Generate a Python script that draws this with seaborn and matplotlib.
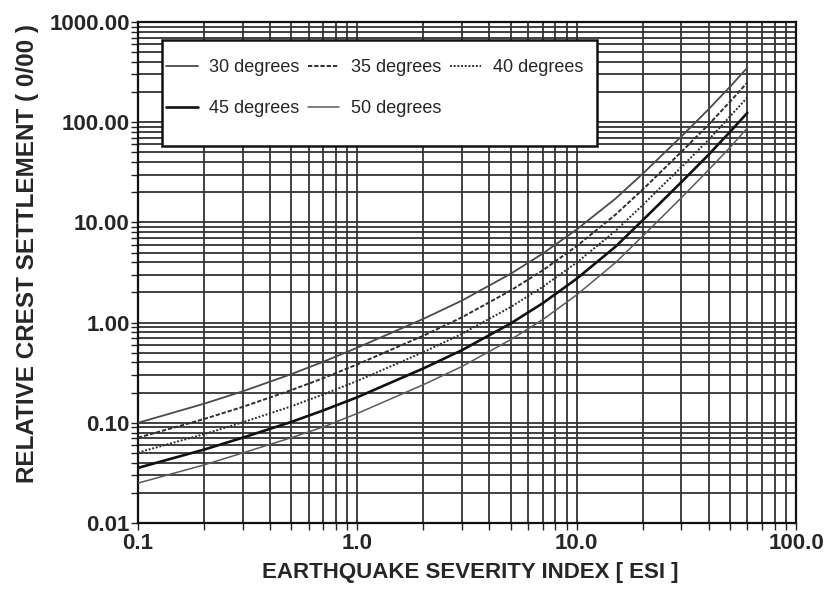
import matplotlib
matplotlib.use("Agg")
import matplotlib.pyplot as plt
import matplotlib.ticker as mticker
from matplotlib.patches import Rectangle
import numpy as np
import pandas as pd
import seaborn as sns

# ---- data ----
esi = [0.1, 0.2, 0.3, 0.5, 0.7, 1, 2, 3, 5, 7, 10, 15, 20, 30, 40, 50, 60]
deg30 = [0.100, 0.155, 0.206, 0.306, 0.407, 0.562, 1.09, 1.66, 3.07, 4.88, 8.5, 17.2, 30.6, 72, 135, 226, 350]
deg35 = [0.071, 0.109, 0.144, 0.212, 0.279, 0.383, 0.74, 1.13, 2.09, 3.32, 5.8, 11.9, 21.3, 50.5, 95, 160, 249]
deg40 = [0.0505, 0.077, 0.101, 0.146, 0.192, 0.262, 0.507, 0.773, 1.43, 2.27, 3.97, 8.2, 14.9, 35.6, 67, 114, 177]
deg45 = [0.0355, 0.054, 0.071, 0.102, 0.133, 0.180, 0.349, 0.531, 0.98, 1.56, 2.74, 5.7, 10.5, 25.2, 47.5, 80, 124]
deg50 = [0.025, 0.038, 0.050, 0.071, 0.091, 0.124, 0.240, 0.365, 0.675, 1.07, 1.89, 3.95, 7.3, 17.6, 33.5, 56, 87.5]
series_labels = ["30 degrees", "35 degrees", "40 degrees", "45 degrees", "50 degrees"]
x_ticks = [0.1, 1, 10, 100]
x_ticklabels = ["0.1", "1.0", "10.0", "100.0"]
y_ticks = [0.01, 0.1, 1, 10, 100, 1000]
y_ticklabels = ["0.01", "0.10", "1.00", "10.00", "100.00", "1000.00"]
x_title = "EARTHQUAKE SEVERITY INDEX [ ESI ]"
y_title = "RELATIVE CREST SETTLEMENT ( 0/00 )"

sns.set_style("ticks")
plt.rcParams["font.family"] = ["Liberation Sans", "DejaVu Sans"]

frames = []
for lab, vals in zip(series_labels, [deg30, deg35, deg40, deg45, deg50]):
    frames.append(pd.DataFrame({"ESI": esi, "settlement": vals, "series": lab}))
df = pd.concat(frames, ignore_index=True)

styles = {
    "30 degrees": dict(color="#4a4a4a", lw=1.3, ls="-"),
    "35 degrees": dict(color="#2e2e2e", lw=1.4, ls=(0, (2.2, 1.0))),
    "40 degrees": dict(color="#2e2e2e", lw=1.4, ls=(0, (1.0, 0.9))),
    "45 degrees": dict(color="#111111", lw=1.9, ls="-"),
    "50 degrees": dict(color="#5a5a5a", lw=1.1, ls="-"),
}

W, H = 831, 593
fig = plt.figure(figsize=(W / 100, H / 100), dpi=100)
ax_l, ax_r, ax_t, ax_b = 138, 796, 22, 523
ax = fig.add_axes([ax_l / W, 1 - ax_b / H, (ax_r - ax_l) / W, (ax_b - ax_t) / H])

for lab in series_labels:
    st = styles[lab]
    sns.lineplot(data=df[df["series"] == lab], x="ESI", y="settlement", ax=ax,
                 color=st["color"], linewidth=st["lw"], linestyle=st["ls"],
                 label=lab, zorder=3)

ax.set_xscale("log")
ax.set_yscale("log")
ax.set_xlim(0.1, 100)
ax.set_ylim(0.01, 1000)

ax.xaxis.set_major_locator(mticker.FixedLocator(x_ticks))
ax.xaxis.set_major_formatter(mticker.FixedFormatter(x_ticklabels))
ax.yaxis.set_major_locator(mticker.FixedLocator(y_ticks))
ax.yaxis.set_major_formatter(mticker.FixedFormatter(y_ticklabels))
ax.xaxis.set_minor_locator(mticker.LogLocator(base=10, subs=np.arange(2, 10), numticks=20))
ax.yaxis.set_minor_locator(mticker.LogLocator(base=10, subs=np.arange(2, 10), numticks=20))
ax.xaxis.set_minor_formatter(mticker.NullFormatter())
ax.yaxis.set_minor_formatter(mticker.NullFormatter())

ax.grid(True, which="both", color="#333333", linewidth=1.3, zorder=1)
ax.set_axisbelow(True)

ax.tick_params(which="both", direction="out", length=5, width=1.0, color="#222222")
ax.tick_params(axis="y", which="major", labelsize=16, pad=1.0)
ax.tick_params(axis="x", which="major", labelsize=16, pad=2.5)
for t in ax.get_xticklabels() + ax.get_yticklabels():
    t.set_fontweight("bold")

for s in ax.spines.values():
    s.set_color("#111111")
    s.set_linewidth(1.6)

ax.set_xlabel(x_title, fontsize=16, fontweight="bold")
ax.set_ylabel(y_title, fontsize=17.5, fontweight="bold")
ax.xaxis.set_label_coords(0.505, -0.078)
ax.yaxis.set_label_coords(-0.150, 0.537)

# legend frame drawn as its own box (pixel box 162..597 x 40..146)
def ax_x(px):
    return (px - ax_l) / (ax_r - ax_l)

def ax_y(py):
    return (ax_b - py) / (ax_b - ax_t)

frame = Rectangle((ax_x(162), ax_y(146)), ax_x(597) - ax_x(162), ax_y(40) - ax_y(146),
                  transform=ax.transAxes, facecolor="white", edgecolor="#111111",
                  linewidth=1.8, zorder=4, clip_on=False)
ax.add_patch(frame)

# row-major legend order (30, 35, 40 / 45, 50) -> column-major handles
handles, labels = ax.get_legend_handles_labels()
order = [0, 3, 1, 4, 2]
leg = ax.legend([handles[i] for i in order], [labels[i] for i in order],
                loc="upper left", bbox_to_anchor=(ax_x(166), ax_y(59)),
                ncol=3, fontsize=13, frameon=False,
                handlelength=1.75, handletextpad=0.65, columnspacing=0.45,
                labelspacing=1.35, borderpad=0.0, borderaxespad=0)
leg.set_zorder(5)

fig.savefig("out.png", dpi=100)
